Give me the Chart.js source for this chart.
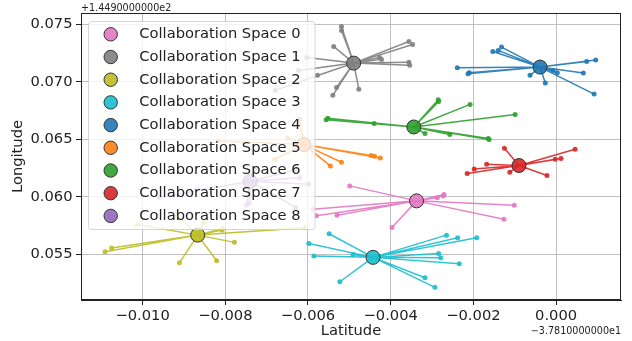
<!DOCTYPE html>
<html>
<head>
<meta charset="utf-8">
<script src="https://cdn.jsdelivr.net/npm/chart.js"></script>
<style>
  body { margin: 0; background: #fff; }
</style>
</head>
<body>
<canvas id="grafica" width="632" height="341"></canvas>
<script>
const spaceLabels = [
    'Collaboration Space 0', 'Collaboration Space 1', 'Collaboration Space 2',
    'Collaboration Space 3', 'Collaboration Space 4', 'Collaboration Space 5',
    'Collaboration Space 6', 'Collaboration Space 7', 'Collaboration Space 8'
];
const colors = ['#e377c2', '#7f7f7f', '#bcbd22', '#17becf', '#1f77b4', '#ff7f0e', '#2ca02c', '#d62728', '#9467bd'];

// centros (offset respecto a -37.81 / 144.9)
const centerX = [-0.003375, -0.004895, -0.008667, -0.004427, -0.000388, -0.006099, -0.003441, -0.000897, -0.007398];
const centerY = [0.059635, 0.071635, 0.056652, 0.054713, 0.071287, 0.064539, 0.066070, 0.062713, 0.061348];

// miembros de cada espacio [lat, lon]
const space0 = [[-0.00499,0.06094],[-0.00271,0.06019],[-0.00273,0.06007],[-0.00287,0.05990],[-0.00101,0.05926],
    [-0.00588,0.05891],[-0.00580,0.05833],[-0.00530,0.05839],[-0.00126,0.05804],[-0.00397,0.05732]];
const space1 = [[-0.00519,0.07483],[-0.00519,0.07448],[-0.00538,0.07309],[-0.00356,0.07352],[-0.00347,0.07326],
    [-0.00427,0.07213],[-0.00422,0.07196],[-0.00356,0.07170],[-0.00354,0.07144],[-0.00603,0.07213],[-0.00623,0.07100],
    [-0.00679,0.06926],[-0.00577,0.07057],[-0.00531,0.06952],[-0.00540,0.06883],[-0.00477,0.06935]];
const space2 = [[-0.01013,0.05758],[-0.00921,0.05854],[-0.00852,0.05776],[-0.00806,0.05724],[-0.00808,0.05709],
    [-0.00607,0.05729],[-0.01075,0.05552],[-0.01091,0.05520],[-0.00778,0.05602],[-0.00911,0.05424],[-0.00821,0.05442]];
const space3 = [[-0.00549,0.05677],[-0.00598,0.05593],[-0.00586,0.05483],[-0.00491,0.05497],[-0.00265,0.05665],
    [-0.00238,0.05642],[-0.00192,0.05642],[-0.00284,0.05506],[-0.00279,0.05468],[-0.00234,0.05416],[-0.00317,0.05294],
    [-0.00293,0.05210],[-0.00523,0.05259]];
const space4 = [[-0.00132,0.07303],[-0.00140,0.07274],[-0.00153,0.07265],[-0.00239,0.07124],[-0.00210,0.07080],
    [-0.00213,0.07071],[0.00074,0.07178],[0.00096,0.07190],[0.00066,0.07077],[0.00003,0.07080],[-0.00007,0.07100],
    [-0.00063,0.07057],[-0.00026,0.06990],[0.00092,0.06894]];
const space5 = [[-0.00620,0.06674],[-0.00817,0.06485],[-0.00649,0.06511],[-0.00681,0.06324],[-0.00447,0.06358],
    [-0.00439,0.06352],[-0.00425,0.06337],[-0.00519,0.06300],[-0.00546,0.06268]];
const space6 = [[-0.00552,0.06683],[-0.00556,0.06671],[-0.00440,0.06637],[-0.00285,0.06845],[-0.00284,0.06830],
    [-0.00208,0.06804],[-0.00099,0.06715],[-0.00317,0.06550],[-0.00257,0.06541],[-0.00164,0.06506],[-0.00162,0.06497]];
const space7 = [[-0.00125,0.06422],[0.00046,0.06413],[0.00012,0.06332],[-0.00002,0.06326],[-0.00168,0.06283],
    [-0.00198,0.06242],[-0.00215,0.06202],[-0.00112,0.06213],[-0.00022,0.06184]];
const space8 = [[-0.00725,0.06248],[-0.00632,0.06230],[-0.00620,0.06164],[-0.00599,0.06109],[-0.00960,0.05993],
    [-0.00749,0.05926],[-0.00742,0.05946],[-0.00630,0.05906]];
const members = [space0, space1, space2, space3, space4, space5, space6, space7, space8];

const xTicks = [-0.010, -0.008, -0.006, -0.004, -0.002, 0.000];
const yTicks = [0.055, 0.060, 0.065, 0.070, 0.075];
const xOffsetText = '\u22123.7810000000e1';
const yOffsetText = '+1.4490000000e2';

const FONT = 'DejaVu Sans';
const TEXT = '#222222';

function rgba(hex, a) {
    const n = parseInt(hex.slice(1), 16);
    return `rgba(${(n >> 16) & 255}, ${(n >> 8) & 255}, ${n & 255}, ${a})`;
}
function fmt(v) {
    return v.toFixed(3).replace('-', '\u2212');
}

const datasets = [];
for (let i = 0; i < spaceLabels.length; i++) {
    const spokes = [];
    members[i].forEach(p => {
        spokes.push({ x: centerX[i], y: centerY[i] });
        spokes.push({ x: p[0], y: p[1] });
        spokes.push({ x: null, y: null }); // corta la linea
    });
    datasets.push({
        label: spaceLabels[i] + ' links',
        data: spokes,
        showLine: true,
        spanGaps: false,
        borderColor: rgba(colors[i], 0.9),
        borderWidth: 1.5,
        pointRadius: ctx => (ctx.dataIndex % 3 === 1 ? 2.5 : 0),
        pointBackgroundColor: rgba(colors[i], 0.9),
        pointBorderWidth: 0,
        order: -2 * i
    });
    datasets.push({
        label: spaceLabels[i],
        data: [{ x: centerX[i], y: centerY[i] }],
        pointRadius: 7,
        pointBackgroundColor: rgba(colors[i], 0.9),
        pointBorderColor: '#333333',
        pointBorderWidth: 1,
        order: -2 * i - 1
    });
}

// marco, leyenda semitransparente y textos de offset
const decor = {
    id: 'decor',
    afterDatasetsDraw(chart) {
        const ctx = chart.ctx;
        const a = chart.chartArea;
        ctx.save();
        ctx.strokeStyle = TEXT;
        ctx.lineWidth = 1;
        ctx.strokeRect(a.left + 0.5, a.top + 0.5, a.right - a.left - 1, a.bottom - a.top - 1);

        // leyenda
        const bx = 88.5, by = 21.5, bw = 226.5, bh = 208;
        ctx.beginPath();
        ctx.roundRect(bx, by, bw, bh, 3);
        ctx.fillStyle = 'rgba(255,255,255,0.8)';
        ctx.fill();
        ctx.strokeStyle = 'rgba(204,204,204,0.8)';
        ctx.stroke();
        ctx.font = `14.7px "${FONT}"`;
        ctx.textBaseline = 'middle';
        ctx.textAlign = 'left';
        spaceLabels.forEach((lab, i) => {
            const y = 34.3 + i * 22.7;
            ctx.beginPath();
            ctx.arc(110.7, y, 6.7, 0, Math.PI * 2);
            ctx.fillStyle = rgba(colors[i], 0.9);
            ctx.fill();
            ctx.strokeStyle = '#333333';
            ctx.lineWidth = 1;
            ctx.stroke();
            ctx.fillStyle = TEXT;
            ctx.fillText(lab, 139.3, y);
        });
        ctx.restore();
    },
    afterDraw(chart) {
        const ctx = chart.ctx;
        const a = chart.chartArea;
        ctx.save();
        ctx.font = `9.6px "${FONT}"`;
        ctx.fillStyle = TEXT;
        ctx.textBaseline = 'alphabetic';
        ctx.textAlign = 'left';
        ctx.fillText(yOffsetText, a.left, 10.5);
        ctx.textAlign = 'right';
        ctx.fillText(xOffsetText, a.right, 333.5);
        ctx.restore();
    }
};

const ctx = document.getElementById('grafica').getContext('2d');
window.myChart = new Chart(ctx, {
    type: 'scatter',
    data: { datasets: datasets },
    options: {
        responsive: false,
        animation: false,
        layout: { padding: { left: 0, top: 13, right: 11, bottom: 0 } },
        plugins: {
            legend: { display: false },
            tooltip: { enabled: false }
        },
        scales: {
            x: {
                type: 'linear',
                min: -0.01149,
                max: 0.00157,
                afterBuildTicks: scale => { scale.ticks = xTicks.map(v => ({ value: v })); },
                afterFit: scale => { scale.height = 41; },
                ticks: {
                    callback: v => fmt(v),
                    autoSkip: false,
                    maxRotation: 0,
                    padding: 2,
                    color: TEXT,
                    font: { family: FONT, size: 14.7 }
                },
                grid: { color: '#c0c0c0', lineWidth: 1, tickColor: TEXT, tickLength: 5, tickWidth: 1 },
                border: { color: TEXT, width: 1 },
                title: {
                    display: true,
                    text: 'Latitude',
                    color: TEXT,
                    padding: { top: 0, bottom: 1.6 },
                    font: { family: FONT, size: 14.7, lineHeight: 1.1 }
                }
            },
            y: {
                type: 'linear',
                min: 0.0510,
                max: 0.0760,
                afterBuildTicks: scale => { scale.ticks = yTicks.map(v => ({ value: v })); },
                afterFit: scale => { scale.width = 81; },
                ticks: {
                    callback: v => fmt(v),
                    autoSkip: false,
                    padding: 3.5,
                    color: TEXT,
                    font: { family: FONT, size: 14.7 }
                },
                grid: { color: '#c0c0c0', lineWidth: 1, tickColor: TEXT, tickLength: 5, tickWidth: 1 },
                border: { color: TEXT, width: 1 },
                title: {
                    display: true,
                    text: 'Longitude',
                    color: TEXT,
                    padding: { top: 10.2, bottom: 0 },
                    font: { family: FONT, size: 14.7, lineHeight: 1.1 }
                }
            }
        }
    },
    plugins: [decor]
});
</script>
</body>
</html>
